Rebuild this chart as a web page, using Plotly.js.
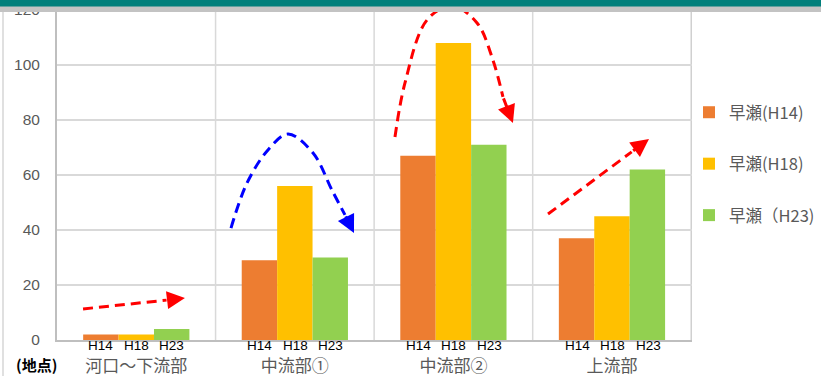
<!DOCTYPE html>
<html>
<head>
<meta charset="utf-8">
<script src="https://cdn.plot.ly/plotly-3.0.1.min.js"></script>
<style>
html,body{margin:0;padding:0;background:#fff;}
#chart{width:821px;height:382px;}
</style>
</head>
<body>
<div id="chart"></div>
<script>
// ---- data ----
const categories = ['河口～下流部', '中流部①', '中流部②', '上流部'];
const seriesNames = ['早瀬(H14)', '早瀬(H18)', '早瀬（H23)'];
const yearLabels = ['H14', 'H18', 'H23'];
const valuesH14 = [2, 29, 67, 37];
const valuesH18 = [2, 56, 108, 45];
const valuesH23 = [4, 30, 71, 62];
const seriesColors = ['#ED7D31', '#FFC000', '#92D050'];

// trend arrows (x: category index units, y: value units)
const arrow1X = [-0.336, 0.19];  const arrow1Y = [11.3, 14.5];  const arrow1Tip = [0.306, 15.3];
const arrow2X = [0.596, 0.697, 0.829, 0.955, 1.113, 1.232, 1.314]; const arrow2Y = [40.7, 57.1, 69.1, 74.9, 68.0, 54.5, 45.5]; const arrow2Tip = [1.371, 38.9];
const arrow3X = [1.629, 1.692, 1.831, 1.988, 2.146, 2.246, 2.309]; const arrow3Y = [73.8, 93.5, 116.4, 121.5, 115.3, 101.8, 88.4]; const arrow3Tip = [2.372, 78.9];
const arrow4X = [2.593, 3.12];  const arrow4Y = [45.8, 68.4];  const arrow4Tip = [3.229, 73.1];

const FONT = '"Noto Sans CJK JP", "Noto Sans", sans-serif';
const LATIN = '"Liberation Sans", Arial, sans-serif';
const bargap = 0.33;

const allValues = [valuesH14, valuesH18, valuesH23];
const traces = allValues.map((vals, i) => ({
  type: 'bar', name: seriesNames[i], x: categories, y: vals,
  marker: {color: seriesColors[i], line: {width: 0}},
  legendgroup: 'g' + i, hoverinfo: 'skip'
}));

const arrows = [
  {x: arrow1X, y: arrow1Y, tip: arrow1Tip, color: '#FF0000', shape: 'linear'},
  {x: arrow2X, y: arrow2Y, tip: arrow2Tip, color: '#0000FF', shape: 'spline'},
  {x: arrow3X, y: arrow3Y, tip: arrow3Tip, color: '#FF0000', shape: 'spline'},
  {x: arrow4X, y: arrow4Y, tip: arrow4Tip, color: '#FF0000', shape: 'linear'}
];
arrows.forEach(a => {
  traces.push({
    type: 'scatter', mode: 'lines', x: a.x, y: a.y, xaxis: 'x2', yaxis: 'y',
    line: {color: a.color, width: 3, dash: '10px,6px', shape: a.shape, smoothing: 1},
    showlegend: false, hoverinfo: 'skip'
  });
});

const annotations = [];
// arrow heads
arrows.forEach(a => {
  const n = a.x.length;
  annotations.push({
    x: a.tip[0], y: a.tip[1], xref: 'x2', yref: 'y',
    ax: a.x[n - 1], ay: a.y[n - 1], axref: 'x2', ayref: 'y',
    showarrow: true, arrowhead: 2, arrowsize: 1.2, arrowwidth: 3,
    arrowcolor: a.color, text: ''
  });
});
// year labels under each bar
const barW = (1 - bargap) / 3;
categories.forEach((c, ci) => {
  yearLabels.forEach((lab, li) => {
    annotations.push({
      x: ci + (li - 1) * barW, y: 0, xref: 'x2', yref: 'paper',
      yanchor: 'top', yshift: 3, borderpad: 0, text: lab, showarrow: false,
      font: {family: LATIN, size: 13.5, color: '#000000'}
    });
  });
});

const pxX = px => (px - 57) / 635;
const pxY = py => 1 - py / 340;

annotations.push({
  x: pxX(36), y: pxY(364), xref: 'paper', yref: 'paper', yanchor: 'middle', xanchor: 'center',
  text: '(地点)', showarrow: false, borderpad: 0,
  font: {family: FONT, size: 15, color: '#000000', weight: 'bold'}
});

const shapes = [];
[0.5, 1.5, 2.5].forEach(v => shapes.push({
  type: 'line', xref: 'x', yref: 'paper', x0: v, x1: v, y0: 0, y1: 1,
  line: {color: '#D9D9D9', width: 1.5}, layer: 'below'
}));
shapes.push({type: 'line', xref: 'x', yref: 'paper', x0: 3.5, x1: 3.5, y0: 0, y1: 1,
  line: {color: '#D0D0D0', width: 1.5}, layer: 'below'});
// left page border
shapes.push({type: 'line', xref: 'paper', yref: 'paper', x0: pxX(3), x1: pxX(3), y0: pxY(12), y1: pxY(376),
  line: {color: '#D6D6D6', width: 1.5}});
// top bands
shapes.push({type: 'rect', xref: 'paper', yref: 'paper', x0: pxX(-2), x1: pxX(823), y0: pxY(6), y1: pxY(12),
  fillcolor: '#C3C3C3', line: {width: 0}});
shapes.push({type: 'rect', xref: 'paper', yref: 'paper', x0: pxX(-2), x1: pxX(823), y0: pxY(-2), y1: pxY(6.5),
  fillcolor: '#007F7B', line: {width: 0}});

const layout = {
  width: 821, height: 382,
  margin: {l: 57, r: 129, t: 0, b: 42, pad: 0},
  paper_bgcolor: '#FFFFFF', plot_bgcolor: '#FFFFFF',
  barmode: 'group', bargap: bargap, bargroupgap: 0,
  font: {family: FONT, color: '#595959'},
  xaxis: {
    type: 'category', showgrid: false, zeroline: false,
    showline: true, linecolor: '#BFBFBF', linewidth: 2,
    ticks: '', tickfont: {family: FONT, size: 17, color: '#595959'},
    ticklabelstandoff: 10, fixedrange: true
  },
  xaxis2: {
    overlaying: 'x', range: [-0.5, 3.5], visible: false, fixedrange: true
  },
  yaxis: {
    range: [0, 340 / 2.75], tickvals: [0, 20, 40, 60, 80, 100, 120],
    showgrid: true, gridcolor: '#D9D9D9', gridwidth: 1.5, zeroline: false,
    showline: true, linecolor: '#BFBFBF', linewidth: 2,
    ticks: '', ticklabelstandoff: 12, ticklabeloverflow: 'allow',
    tickfont: {family: LATIN, size: 15.5, color: '#595959'}, fixedrange: true
  },
  showlegend: true,
  legend: {
    x: pxX(689), y: pxY(95), xanchor: 'left', yanchor: 'top',
    traceorder: 'grouped', tracegroupgap: 27,
    font: {family: FONT, size: 16.5, color: '#595959'},
    itemwidth: 30, bgcolor: 'rgba(0,0,0,0)'
  },
  annotations: annotations,
  shapes: shapes
};

Plotly.newPlot('chart', traces, layout, {staticPlot: true, displayModeBar: false});
</script>
</body>
</html>
